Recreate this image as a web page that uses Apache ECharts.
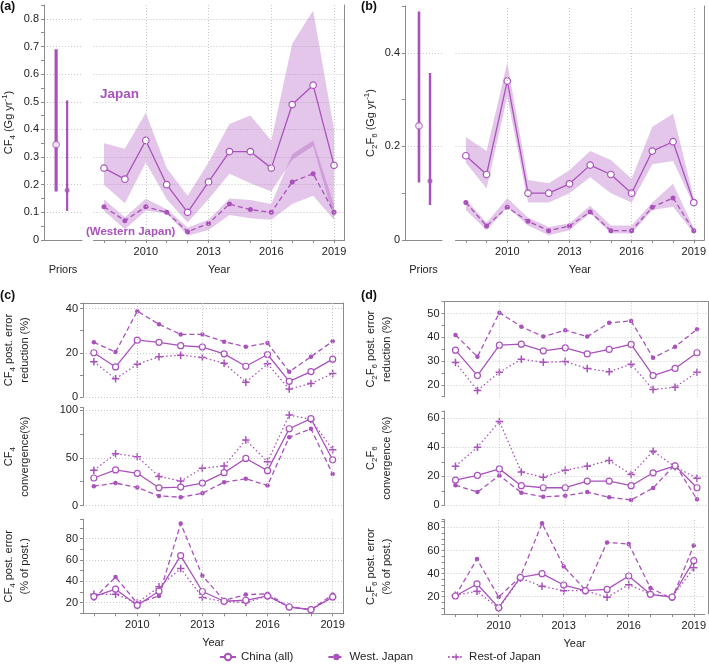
<!DOCTYPE html>
<html>
<head>
<meta charset="utf-8">
<script src="https://cdn.jsdelivr.net/npm/echarts@6/dist/echarts.min.js"></script>
<style>
html, body { margin: 0; padding: 0; background: #fff; }
#chart { width: 709px; height: 670px; }
</style>
</head>
<body>
<div id="chart"></div>
<script>
// ---- data ----
var years = [2008, 2009, 2010, 2011, 2012, 2013, 2014, 2015, 2016, 2017, 2018, 2019];
var gridYears = [2010, 2013, 2016, 2019];

// (a) CF4 emissions (Gg/yr)
var cf4Japan   = [0.26, 0.22, 0.36, 0.20, 0.10, 0.21, 0.32, 0.32, 0.26, 0.49, 0.56, 0.27];
var cf4JapanLo = [0.20, 0.133, 0.28, 0.147, 0.063, 0.147, 0.24, 0.205, 0.175, 0.29, 0.34, 0.075];
var cf4JapanHi = [0.35, 0.33, 0.46, 0.26, 0.16, 0.28, 0.42, 0.45, 0.36, 0.71, 0.83, 0.40];
var cf4West    = [0.12, 0.07, 0.12, 0.10, 0.03, 0.06, 0.13, 0.11, 0.10, 0.21, 0.24, 0.10];
var cf4WestLo  = [0.106, 0.039, 0.106, 0.097, 0.015, 0.036, 0.09, 0.079, 0.073, 0.13, 0.16, 0.073];
var cf4WestHi  = [0.147, 0.082, 0.149, 0.111, 0.045, 0.073, 0.15, 0.145, 0.13, 0.31, 0.36, 0.127];
var cf4PriorMid = [0.345, 0.18];
var cf4PriorLo  = [0.175, 0.105];
var cf4PriorHi  = [0.69, 0.505];

// (b) C2F6 emissions (Gg/yr)
var c2f6Japan   = [0.18, 0.14, 0.34, 0.10, 0.10, 0.12, 0.16, 0.14, 0.10, 0.19, 0.21, 0.08];
var c2f6JapanLo = [0.165, 0.11, 0.306, 0.08, 0.08, 0.10, 0.134, 0.10, 0.08, 0.162, 0.169, 0.075];
var c2f6JapanHi = [0.22, 0.19, 0.379, 0.128, 0.121, 0.149, 0.19, 0.171, 0.131, 0.242, 0.27, 0.09];
var c2f6West    = [0.08, 0.03, 0.07, 0.04, 0.02, 0.03, 0.06, 0.02, 0.02, 0.07, 0.09, 0.02];
var c2f6WestLo  = [0.064, 0.021, 0.07, 0.031, 0.01, 0.021, 0.057, 0.014, 0.014, 0.064, 0.071, 0.015];
var c2f6WestHi  = [0.087, 0.037, 0.089, 0.048, 0.028, 0.036, 0.073, 0.031, 0.031, 0.08, 0.12, 0.025];
var c2f6PriorMid = [0.244, 0.126];
var c2f6PriorLo  = [0.123, 0.075];
var c2f6PriorHi  = [0.488, 0.357];

// (c) CF4 diagnostics (%)
var cf4RedChina = [20.0, 13.6, 25.7, 24.7, 23.2, 22.6, 19.5, 13.9, 19.2, 7.1, 11.5, 17.1];
var cf4RedWest  = [24.7, 20.3, 38.8, 32.9, 28.3, 28.3, 25.0, 22.7, 24.4, 11.4, 18.2, 25.2];
var cf4RedRest  = [15.9, 8.2, 14.8, 18.2, 18.9, 17.9, 15.3, 6.7, 15.0, 3.6, 6.1, 10.6];
var cf4ConvChina = [28.9, 37.3, 33.8, 18.7, 19.4, 23.6, 34.5, 49.3, 36.6, 80.3, 90.8, 47.9];
var cf4ConvWest  = [20.4, 23.6, 19.0, 10.2, 8.8, 13.0, 24.6, 28.2, 21.1, 71.5, 80.3, 33.1];
var cf4ConvRest  = [37.0, 54.2, 51.1, 30.6, 25.7, 39.1, 41.5, 68.7, 45.8, 94.7, 90.0, 58.5];
var cf4ErrChina = [25.7, 32.6, 17.5, 30.7, 64.0, 30.4, 21.3, 22.2, 26.3, 15.9, 13.4, 25.3];
var cf4ErrWest  = [23.8, 43.9, 19.4, 26.3, 94.0, 45.1, 22.2, 27.5, 28.2, 15.9, 13.4, 27.5];
var cf4ErrRest  = [27.8, 27.8, 19.7, 34.8, 52.0, 24.7, 21.0, 20.0, 26.3, 16.0, 13.4, 25.0];

// (d) C2F6 diagnostics (%)
var c2f6RedChina = [34.6, 23.9, 36.7, 37.1, 34.3, 35.6, 33.0, 34.9, 37.0, 23.9, 26.9, 33.5];
var c2f6RedWest  = [41.0, 31.8, 50.4, 44.5, 40.3, 43.0, 40.3, 46.1, 46.9, 31.4, 36.0, 43.4];
var c2f6RedRest  = [29.4, 17.6, 25.3, 30.8, 29.5, 29.8, 26.9, 25.5, 28.7, 18.0, 19.0, 25.3];
var c2f6ConvChina = [17.4, 20.6, 25.1, 13.5, 12.1, 12.1, 16.7, 16.7, 13.5, 22.4, 27.2, 12.1];
var c2f6ConvWest  = [13.9, 9.1, 20.6, 8.7, 5.9, 6.6, 9.1, 5.5, 3.7, 11.9, 28.1, 4.1];
var c2f6ConvRest  = [27.0, 40.0, 57.8, 22.9, 19.4, 24.2, 27.0, 30.9, 21.3, 37.3, 26.5, 18.7];
var c2f6ErrChina = [20.6, 31.0, 10.5, 36.7, 39.9, 30.1, 25.2, 26.3, 37.9, 22.0, 19.7, 51.2];
var c2f6ErrWest  = [20.6, 52.6, 19.7, 37.3, 83.5, 46.2, 25.8, 67.0, 65.6, 27.5, 18.3, 64.4];
var c2f6ErrRest  = [21.2, 24.6, 10.0, 36.0, 29.0, 25.2, 25.2, 19.4, 30.4, 22.3, 19.4, 45.0];

// ---- style ----
var PURPLE = '#aa52bc';
var BAND = 'rgba(169,79,187,0.32)';
var AXIS = '#8c8c8c';
var GRIDC = '#c8c8c8';
var FONT = 'Liberation Sans, Arial, sans-serif';
var PLUS = 'path://M4,0H6V4H10V6H6V10H4V6H0V4H4Z';
var rich = {
  sub: { fontSize: 8, fontFamily: FONT, color: '#222', verticalAlign: 'bottom' },
  sup: { fontSize: 8, fontFamily: FONT, color: '#222', verticalAlign: 'top' }
};

function pairs(vals) {
  return years.map(function (y, i) { return [y, vals[i]]; });
}

var grids = [], xAxes = [], yAxes = [], series = [];

function addGrid(g) { grids.push(g); return grids.length - 1; }

function yearAxis(gi, showLabels, name) {
  xAxes.push({
    type: 'value', gridIndex: gi, min: 2007.5, max: 2019.5, interval: 0.5,
    name: name || '', nameLocation: 'middle', nameGap: 24,
    nameTextStyle: { fontSize: 11, color: '#222', fontFamily: FONT },
    axisLine: { show: showLabels, onZero: false, lineStyle: { color: AXIS, width: 1 } },
    axisTick: { show: showLabels, length: 3, customValues: years, lineStyle: { color: AXIS } },
    axisLabel: {
      show: showLabels, margin: 6, fontSize: 11, color: '#222', fontFamily: FONT,
      customValues: gridYears,
      formatter: function (v) { return gridYears.indexOf(v) >= 0 ? String(v) : ''; }
    },
    splitLine: { show: false }
  });
}

function valueAxis(gi, o) {
  var labelStep = o.labelStep;
  yAxes.push({
    type: 'value', gridIndex: gi, min: o.min, max: o.max, interval: o.step,
    position: o.position || 'left',
    name: o.name || '', nameLocation: 'middle', nameRotate: 90, nameGap: o.nameGap || 0,
    nameTextStyle: { fontSize: 11, color: '#222', fontFamily: FONT, lineHeight: 16, align: 'center', rich: rich },
    axisLine: { show: o.line !== false, onZero: false, lineStyle: { color: AXIS, width: 1 } },
    axisTick: { show: o.ticks !== false, length: 3, lineStyle: { color: AXIS } },
    axisLabel: {
      show: o.labels !== false, margin: 5, fontSize: 11, color: '#222', fontFamily: FONT,
      formatter: function (v) {
        var r = v / labelStep;
        return Math.abs(r - Math.round(r)) < 1e-6 ? String(+v.toFixed(2)) : '';
      }
    },
    splitLine: {
      show: !!o.splitColors, showMaxLine: false,
      lineStyle: { color: o.splitColors || GRIDC, type: [1, 2], width: 1 }
    }
  });
}

function frameAxes(gi) {
  xAxes.push({ type: 'value', gridIndex: gi, min: 0, max: 1, position: 'top',
    axisLine: { show: true, onZero: false, lineStyle: { color: AXIS } },
    axisTick: { show: false }, axisLabel: { show: false }, splitLine: { show: false } });
  yAxes.push({ type: 'value', gridIndex: gi, min: 0, max: 1, position: 'right',
    axisLine: { show: true, onZero: false, lineStyle: { color: AXIS } },
    axisTick: { show: false }, axisLabel: { show: false }, splitLine: { show: false } });
}

function yearGridLines() {
  return {
    silent: true, symbol: 'none', label: { show: false },
    lineStyle: { color: GRIDC, type: [1, 2], width: 1 },
    data: gridYears.map(function (y) { return { xAxis: y }; })
  };
}

function lineSeries(name, ai, vals, kind, big, withGrid) {
  var s = {
    name: name, type: 'line', xAxisIndex: ai, yAxisIndex: ai, data: pairs(vals), z: 3,
    lineStyle: { color: PURPLE, width: 1.3 },
    itemStyle: { color: PURPLE }
  };
  if (kind === 'china') {
    s.symbol = 'circle'; s.symbolSize = big ? 6.5 : 6;
    s.itemStyle = { color: '#fff', borderColor: PURPLE, borderWidth: 1.2 };
    s.z = 4;
  } else if (kind === 'west') {
    s.symbol = 'circle'; s.symbolSize = big ? 5 : 4.5;
    s.lineStyle.type = [5, 3];
  } else {
    s.symbol = PLUS; s.symbolSize = 7.5;
    s.lineStyle.type = [1.5, 2.5];
  }
  if (withGrid) s.markLine = yearGridLines();
  return s;
}

function bandSeries(ai, lo, hi) {
  return {
    type: 'custom', xAxisIndex: ai, yAxisIndex: ai, silent: true, z: 1,
    data: years.map(function (y, i) { return [y, lo[i], hi[i]]; }),
    encode: { x: 0, y: [1, 2] },
    renderItem: function (params, api) {
      if (params.dataIndex !== 0) return null;
      var top = [], bot = [];
      for (var i = 0; i < years.length; i++) {
        top.push(api.coord([years[i], hi[i]]));
        bot.unshift(api.coord([years[i], lo[i]]));
      }
      return { type: 'polygon', shape: { points: top.concat(bot) }, style: { fill: BAND } };
    }
  };
}

function priorSeries(ai, mid, lo, hi, widths) {
  mid.forEach(function (m, k) {
    series.push({
      type: 'line', xAxisIndex: ai, yAxisIndex: ai, symbol: 'none', z: 3,
      lineStyle: { color: PURPLE, width: widths[k] },
      data: [[k, lo[k]], [k, hi[k]]]
    });
    series.push({
      type: 'scatter', xAxisIndex: ai, yAxisIndex: ai, z: 4,
      symbol: 'circle', symbolSize: k === 0 ? 6.5 : 5,
      itemStyle: k === 0 ? { color: '#fff', borderColor: PURPLE, borderWidth: 1.2 } : { color: PURPLE },
      data: [[k, m]]
    });
  });
}

function priorXAxis(gi, min, max) {
  xAxes.push({
    type: 'value', gridIndex: gi, min: min, max: max,
    name: 'Priors', nameLocation: 'middle', nameGap: 24,
    nameTextStyle: { fontSize: 11, color: '#222', fontFamily: FONT },
    axisLine: { show: true, onZero: false, lineStyle: { color: AXIS } },
    axisTick: { show: false }, axisLabel: { show: false }, splitLine: { show: false }
  });
}

// ---- (a) CF4 emissions ----
var gA0 = addGrid({ left: 44, top: 5, width: 38, height: 235 });
priorXAxis(gA0, -1.1, 2.35);
valueAxis(gA0, { min: 0, max: 0.85, step: 0.05, labelStep: 0.1, splitColors: [GRIDC, 'transparent'],
  name: 'CF{sub|4} (Gg yr{sup|-1})', nameGap: 27 });
priorSeries(gA0, cf4PriorMid, cf4PriorLo, cf4PriorHi, [3.2, 2.2]);

var gA1 = addGrid({ left: 93.5, top: 5, width: 251, height: 235 });
yearAxis(gA1, true, 'Year');
valueAxis(gA1, { min: 0, max: 0.85, step: 0.1, labelStep: 0.1, splitColors: [GRIDC], position: 'right', ticks: false, labels: false });
series.push(bandSeries(gA1, cf4JapanLo, cf4JapanHi));
series.push(bandSeries(gA1, cf4WestLo, cf4WestHi));
series.push(lineSeries('Japan', gA1, cf4Japan, 'china', true, true));
series.push(lineSeries('Western Japan', gA1, cf4West, 'west', true, false));

// ---- (b) C2F6 emissions ----
var gB0 = addGrid({ left: 405, top: 6, width: 37, height: 234 });
priorXAxis(gB0, -1.27, 2.09);
valueAxis(gB0, { min: 0, max: 0.5, step: 0.1, labelStep: 0.2, splitColors: [GRIDC, 'transparent'],
  name: 'C{sub|2}F{sub|6} (Gg yr{sup|-1})', nameGap: 26 });
priorSeries(gB0, c2f6PriorMid, c2f6PriorLo, c2f6PriorHi, [2.6, 2.4]);

var gB1 = addGrid({ left: 455.5, top: 6, width: 252, height: 234 });
yearAxis(gB1, true, 'Year');
valueAxis(gB1, { min: 0, max: 0.5, step: 0.2, labelStep: 0.2, splitColors: [GRIDC], position: 'right', ticks: false, labels: false });
series.push(bandSeries(gB1, c2f6JapanLo, c2f6JapanHi));
series.push(bandSeries(gB1, c2f6WestLo, c2f6WestHi));
series.push(lineSeries('Japan C2F6', gB1, c2f6Japan, 'china', true, true));
series.push(lineSeries('Western Japan C2F6', gB1, c2f6West, 'west', true, false));

// ---- (c) / (d) diagnostic panels ----
function diagPanel(box, axisOpt, china, west, rest, last) {
  var gi = addGrid(box);
  yearAxis(gi, last, last ? 'Year' : '');
  valueAxis(gi, axisOpt);
  series.push(lineSeries('Rest-of Japan', gi, rest, 'rest', false, true));
  series.push(lineSeries('West. Japan', gi, west, 'west', false, false));
  series.push(lineSeries('China (all)', gi, china, 'china', false, false));
}

var CL = 82, CW = 261.5, DL = 444.5, DW = 263.5, NG = 50;
diagPanel({ left: CL, top: 303, width: CW, height: 94 },
  { min: 0, max: 42.5, step: 10, labelStep: 20, splitColors: [GRIDC, 'transparent'],
    name: 'CF{sub|4} post. error\nreduction (%)', nameGap: NG },
  cf4RedChina, cf4RedWest, cf4RedRest, false);
diagPanel({ left: CL, top: 407.5, width: CW, height: 98.2 },
  { min: 0, max: 102.5, step: 25, labelStep: 50, splitColors: [GRIDC, 'transparent'],
    name: 'CF{sub|4}\nconvergence(%)', nameGap: NG },
  cf4ConvChina, cf4ConvWest, cf4ConvRest, false);
diagPanel({ left: CL, top: 519.3, width: CW, height: 94 },
  { min: 10, max: 98, step: 10, labelStep: 20, splitColors: ['transparent', GRIDC],
    name: 'CF{sub|4} post. error\n(% of post.)', nameGap: NG },
  cf4ErrChina, cf4ErrWest, cf4ErrRest, true);

diagPanel({ left: DL, top: 301.7, width: DW, height: 95 },
  { min: 15, max: 55, step: 5, labelStep: 10, splitColors: ['transparent', GRIDC],
    name: 'C{sub|2}F{sub|6} post. error\nreduction (%)', nameGap: NG },
  c2f6RedChina, c2f6RedWest, c2f6RedRest, false);
diagPanel({ left: DL, top: 411, width: DW, height: 94.3 },
  { min: 0, max: 65, step: 10, labelStep: 20, splitColors: [GRIDC, 'transparent'],
    name: 'C{sub|2}F{sub|6}\nconvergence (%)', nameGap: NG },
  c2f6ConvChina, c2f6ConvWest, c2f6ConvRest, false);
diagPanel({ left: DL, top: 519.3, width: DW, height: 94.7 },
  { min: 5, max: 87, step: 5, labelStep: 20, splitColors: ['transparent', 'transparent', 'transparent', GRIDC],
    name: 'C{sub|2}F{sub|6} post. error\n(% of post.)', nameGap: NG },
  c2f6ErrChina, c2f6ErrWest, c2f6ErrRest, true);

// frames (top + right border) round the (c) and (d) columns
frameAxes(addGrid({ left: CL, top: 303, width: CW, height: 310.3 }));
frameAxes(addGrid({ left: DL, top: 301.7, width: DW, height: 312.3 }));

function txt(x, y, s, size, bold, color) {
  return { type: 'text', x: x, y: y, silent: true,
    style: { text: s, fontSize: size, fontWeight: bold ? 'bold' : 'normal', fill: color || '#111', fontFamily: FONT } };
}

var option = {
  animation: false,
  backgroundColor: '#fff',
  grid: grids,
  xAxis: xAxes,
  yAxis: yAxes,
  series: series,
  legend: {
    data: ['China (all)', 'West. Japan', 'Rest-of Japan'],
    left: 214, bottom: 2, itemGap: 34, itemWidth: 16, itemHeight: 8,
    textStyle: { fontSize: 11.5, color: '#222', fontFamily: FONT }
  },
  graphic: [
    txt(0, 0, '(a)', 12.5, true),
    txt(361, 0, '(b)', 12.5, true),
    txt(0, 289, '(c)', 12.5, true),
    txt(361, 289, '(d)', 12.5, true),
    txt(100, 87, 'Japan', 13.5, true, PURPLE),
    txt(86, 226, '(Western Japan)', 11.5, true, PURPLE)
  ]
};

var myChart = echarts.init(document.getElementById('chart'));
myChart.setOption(option);
</script>
</body>
</html>
